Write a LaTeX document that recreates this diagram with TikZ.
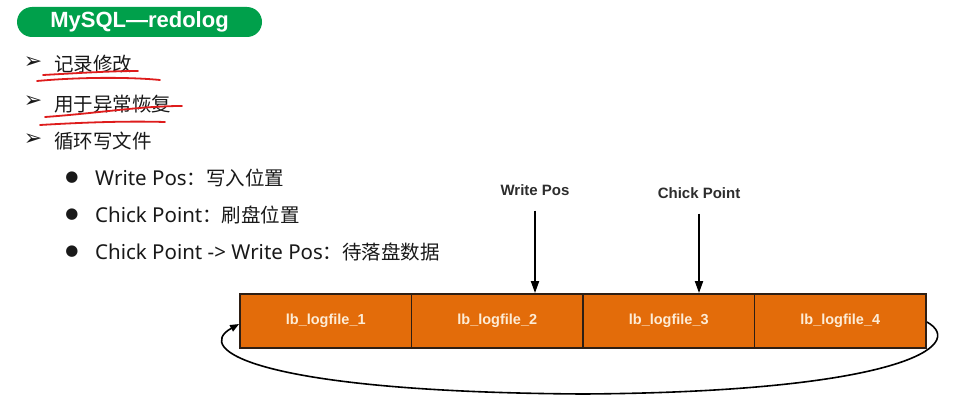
\documentclass[tikz,border=0pt]{standalone}
\usepackage{fontspec}
\setmainfont{Noto Sans}
\newfontfamily\cjk{Noto Sans CJK SC}
\newfontfamily\symf{DejaVu Sans}
\newfontfamily\boldsans{Liberation Sans}
\newcommand\cjkt[1]{{\cjk\fontsize{19.5}{22}\selectfont #1}}
\usetikzlibrary{arrows.meta}
\definecolor{titlegreen}{RGB}{0,160,75}
\definecolor{boxorange}{RGB}{227,108,10}
\definecolor{boxedge}{RGB}{45,30,20}
\definecolor{labelcream}{RGB}{253,236,214}
\definecolor{inkred}{RGB}{222,28,28}
\definecolor{txt}{RGB}{25,25,25}
\definecolor{ptgray}{RGB}{45,45,45}
\begin{document}
\begin{tikzpicture}[x=1pt,y=-1pt,
  titlebox/.style={fill=titlegreen, rounded corners=15pt, minimum width=245pt, minimum height=30pt, inner sep=0pt, text=white, font=\boldsans\bfseries\fontsize{22}{22}\selectfont},
  arrowmark/.style={inner sep=0pt, text=txt, font=\symf\fontsize{22}{22}\selectfont},
  dotmark/.style={inner sep=0pt, text=txt, font=\symf\fontsize{15}{15}\selectfont},
  itemtext/.style={anchor=west, inner sep=0pt, text=txt, font=\fontsize{20.5}{22}\selectfont},
  logbox/.style={draw=boxedge, line width=1.8pt, fill=boxorange, minimum width=171.5pt, minimum height=54pt, inner sep=0pt, text=labelcream, font=\boldsans\bfseries\fontsize{14.5}{14.5}\selectfont},
  ptlabel/.style={inner sep=3pt, text=ptgray, font=\boldsans\bfseries\fontsize{15}{15}\selectfont},
  ptarrow/.style={line width=1.8pt, -{Triangle[length=12pt,width=8pt]}},
  looparrow/.style={line width=1.6pt, -{Triangle[length=9pt,width=7pt]}},
  scribble/.style={draw=inkred, line width=1.8pt, line cap=round}
]
\useasboundingbox[fill=white] (0,0) rectangle (958,404);

% title
\node[titlebox] (title) at (139.5,22) {MySQL—redolog};

% level-1 items
\node[arrowmark] (a1) at (33,63) {➢};
\node[arrowmark] (a2) at (33,102) {➢};
\node[arrowmark] (a3) at (33,140) {➢};
\node[itemtext] (i1) at (54,64) {\cjkt{记录修改}};
\node[itemtext] (i2) at (54,104) {\cjkt{用于异常恢复}};
\node[itemtext] (i3) at (54,141) {\cjkt{循环写文件}};

% red underlines
\draw[scribble] (43,75) .. controls (80,73) and (110,71) .. (138,71);
\draw[scribble] (37,81) .. controls (80,77) and (130,77) .. (160,80);
\draw[scribble] (45,117) .. controls (100,113) and (140,106) .. (182,106);
\draw[scribble] (40,125) .. controls (90,122) and (130,121) .. (165,122);

% level-2 items
\node[dotmark] (d1) at (72,178) {●};
\node[dotmark] (d2) at (72,215) {●};
\node[dotmark] (d3) at (72,252) {●};
\node[itemtext] (s1) at (95,178) {Write Pos\cjkt{：写入位置}};
\node[itemtext] (s2) at (95,215) {Chick Point\cjkt{：刷盘位置}};
\node[itemtext] (s3) at (95,252) {Chick Point -> Write Pos\cjkt{：待落盘数据}};

% log files
\node[logbox] (b1) at (325.75,321) {lb\_logfile\_1};
\node[logbox] (b2) at (497.25,321) {lb\_logfile\_2};
\node[logbox] (b3) at (668.75,321) {lb\_logfile\_3};
\node[logbox] (b4) at (840.25,321) {lb\_logfile\_4};

% pointers
\node[ptlabel] (wp) at (535,190) {Write Pos};
\node[ptlabel] (cp) at (699,193) {Chick Point};
\draw[ptarrow, shorten <=12pt] (wp) -- (wp |- b2.north);
\draw[ptarrow, shorten <=12pt] (cp) -- (cp |- b3.north);

% circular loop
\coordinate (loopbottom) at (583,394);
\draw[looparrow] ([yshift=-1pt]b4.east) .. controls (968,345) and (900,392) .. (loopbottom)
  .. controls (260,392) and (192,350) .. ([yshift=-3pt]b1.west);
\end{tikzpicture}
\end{document}
